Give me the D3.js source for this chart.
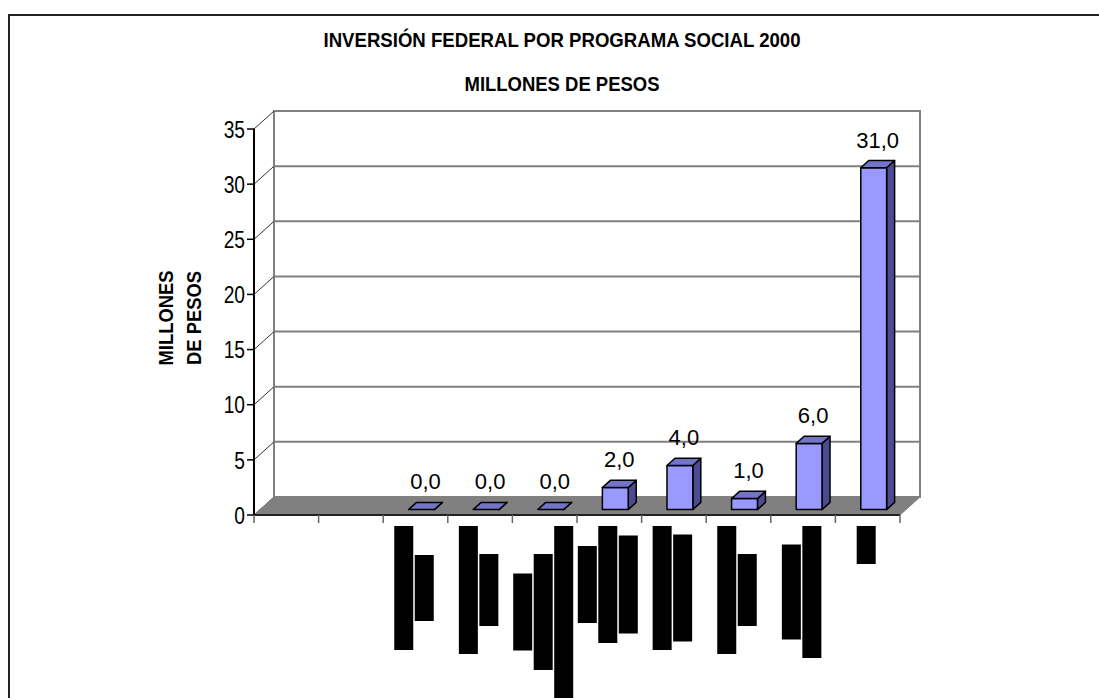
<!DOCTYPE html>
<html>
<head>
<meta charset="utf-8">
<script src="https://cdn.jsdelivr.net/npm/d3@7"></script>
<style>
  html, body { margin: 0; padding: 0; background: #fff; }
  svg { display: block; }
  text { font-family: "Liberation Sans", Arial, sans-serif; }
</style>
</head>
<body>
<svg id="chart" width="1099" height="698"></svg>
<script>
// ---------- data ----------
const titleLines = ["INVERSIÓN FEDERAL POR PROGRAMA SOCIAL 2000", "MILLONES DE PESOS"];
const axisTitleLines = ["MILLONES", "DE PESOS"];
const categories = ["P1", "P2", "P3", "P4", "P5", "P6", "P7", "P8", "P9", "P10"];
const values = [null, null, 0, 0, 0, 2, 4, 1, 6, 31];
const valueLabels = ["", "", "0,0", "0,0", "0,0", "2,0", "4,0", "1,0", "6,0", "31,0"];
const yTicks = [0, 5, 10, 15, 20, 25, 30, 35];
// category labels in the source are illegible rotated blocks; lengths of each line (px)
const labelLineLengths = [[], [], [124, 66], [128, 72], [77, 116, 172], [77, 117, 98], [124, 107], [128, 72], [95, 132], [38]];

// ---------- layout ----------
const svg = d3.select("#chart");
const W = 1099, H = 698;
const plot = { left: 254, right: 900, bottom: 515, top: 129 };
const depth = { dx: 20, dy: -18 };
const barFront = 0.3, barBack = 0.7;

const x = d3.scaleBand().domain(categories).range([plot.left, plot.right]).padding(0);
const y = d3.scaleLinear().domain([0, 35]).range([plot.bottom, plot.top]);

// frame
svg.append("path")
  .attr("d", `M9,${H} V15 H${W}`)
  .attr("fill", "none").attr("stroke", "#222").attr("stroke-width", 2);

// titles
const titleG = svg.append("g").attr("font-weight", "bold").attr("fill", "#000");
titleG.append("text").attr("x", 562).attr("y", 47).attr("text-anchor", "middle")
  .attr("font-size", 21).attr("textLength", 477).attr("lengthAdjust", "spacingAndGlyphs")
  .text(titleLines[0]);
titleG.append("text").attr("x", 562).attr("y", 91).attr("text-anchor", "middle")
  .attr("font-size", 21).attr("textLength", 195).attr("lengthAdjust", "spacingAndGlyphs")
  .text(titleLines[1]);

// back wall
const bx = plot.left + depth.dx, by = depth.dy;
svg.append("rect")
  .attr("x", bx).attr("y", y(35) + by)
  .attr("width", plot.right - plot.left).attr("height", y(0) - y(35))
  .attr("fill", "#fff").attr("stroke", "#808080").attr("stroke-width", 2);

// gridlines on back wall + connectors on side wall
yTicks.forEach(t => {
  if (t > 0) {
    svg.append("line")
      .attr("x1", bx).attr("x2", plot.right + depth.dx)
      .attr("y1", y(t) + by).attr("y2", y(t) + by)
      .attr("stroke", "#808080").attr("stroke-width", 2);
  }
  svg.append("line")
    .attr("x1", plot.left).attr("y1", y(t))
    .attr("x2", bx).attr("y2", y(t) + by)
    .attr("stroke", "#333").attr("stroke-width", 1);
});

// floor
svg.append("path")
  .attr("d", `M${plot.left},${y(0)} L${plot.right},${y(0)} L${plot.right + depth.dx},${y(0) + depth.dy} L${bx},${y(0) + depth.dy} Z`)
  .attr("fill", "#808080").attr("stroke", "#808080").attr("stroke-width", 1);

// y axis
svg.append("line")
  .attr("x1", plot.left).attr("x2", plot.left)
  .attr("y1", y(35)).attr("y2", y(0))
  .attr("stroke", "#000").attr("stroke-width", 2);
yTicks.forEach(t => {
  svg.append("line").attr("x1", plot.left - 7).attr("x2", plot.left)
    .attr("y1", y(t)).attr("y2", y(t)).attr("stroke", "#000").attr("stroke-width", 1.5);
  svg.append("text")
    .attr("transform", `translate(245,${y(t)}) scale(0.8,1)`)
    .attr("text-anchor", "end").attr("dy", "0.36em")
    .attr("font-size", 24).attr("fill", "#000")
    .text(t);
});

// x axis
svg.append("line")
  .attr("x1", plot.left).attr("x2", plot.right)
  .attr("y1", y(0)).attr("y2", y(0))
  .attr("stroke", "#222").attr("stroke-width", 2);
const boundaries = categories.map(c => x(c)).concat([plot.right]);
boundaries.forEach(b => {
  svg.append("line").attr("x1", b).attr("x2", b)
    .attr("y1", y(0)).attr("y2", y(0) + 8)
    .attr("stroke", "#666").attr("stroke-width", 1.5);
});

// axis title
axisTitleLines.forEach((s, i) => {
  svg.append("text")
    .attr("transform", `translate(${173 + i * 28},318) rotate(-90) scale(0.92,1)`)
    .attr("text-anchor", "middle")
    .attr("font-size", 20).attr("font-weight", "bold").attr("fill", "#000")
    .text(s);
});

// bars
const bw = x.bandwidth() * 0.4;
const fdx = depth.dx * barFront, fdy = depth.dy * barFront;
const ddx = depth.dx * (barBack - barFront), ddy = depth.dy * (barBack - barFront);
categories.forEach((c, i) => {
  const v = values[i];
  if (v === null) return;
  const cx = x(c) + x.bandwidth() / 2 + fdx;
  const x0 = cx - bw / 2, x1 = cx + bw / 2;
  const yb = y(0) + fdy, yt = y(v) + fdy;
  const g = svg.append("g").attr("stroke", "#000").attr("stroke-width", 1.5).attr("stroke-linejoin", "round");
  // side
  g.append("path").attr("d", `M${x1},${yb} L${x1 + ddx},${yb + ddy} L${x1 + ddx},${yt + ddy} L${x1},${yt} Z`)
    .attr("fill", "#4B4B8F");
  // front
  if (v > 0) {
    g.append("rect").attr("x", x0).attr("y", yt).attr("width", bw).attr("height", yb - yt)
      .attr("fill", "#9999FF");
  }
  // top
  g.append("path").attr("d", `M${x0},${yt} L${x1},${yt} L${x1 + ddx},${yt + ddy} L${x0 + ddx},${yt + ddy} Z`)
    .attr("fill", "#7373C8");
  // value label
  svg.append("text")
    .attr("x", cx + ddx / 2).attr("y", yt + ddy - 13)
    .attr("text-anchor", "middle").attr("font-size", 22).attr("fill", "#000")
    .text(valueLabels[i]);
});

// category label blocks (illegible in source)
const lineW = 19, lineStep = 20.5, labelTop = y(0) + 11;
categories.forEach((c, i) => {
  const lines = labelLineLengths[i];
  if (!lines.length) return;
  const cx = x(c) + x.bandwidth() / 2 - 1.5;
  const n = lines.length;
  const maxLen = d3.max(lines);
  const midY = labelTop + maxLen / 2;
  lines.forEach((len, j) => {
    const lx = cx - (n * lineStep - (lineStep - lineW)) / 2 + j * lineStep;
    svg.append("rect")
      .attr("x", lx).attr("y", midY - len / 2)
      .attr("width", lineW).attr("height", len)
      .attr("fill", "#000");
  });
});
</script>
</body>
</html>
